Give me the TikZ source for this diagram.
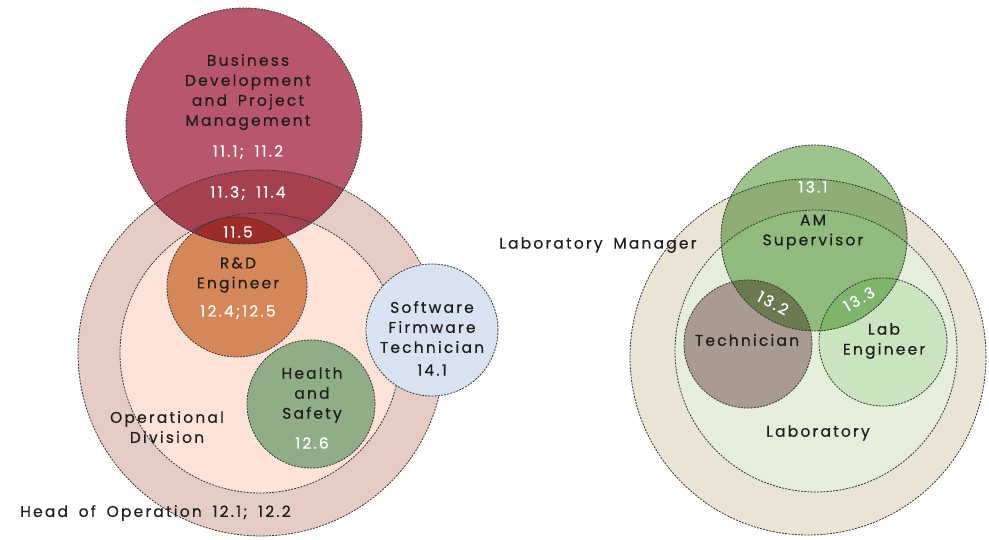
\documentclass[tikz,border=0pt]{standalone}
\usepackage{fontspec}
\setmainfont{Poppins}[LetterSpace=14, FakeBold=0.4, WordSpace=1.7]
\definecolor{hoC}{HTML}{E5CCC4}
\definecolor{odC}{HTML}{FDE2D8}
\definecolor{rdC}{HTML}{D4885A}
\definecolor{hsC}{HTML}{90AD88}
\definecolor{swC}{HTML}{D9E2F1}
\definecolor{bdC}{HTML}{B8566C}
\definecolor{bdhoC}{HTML}{A5414F}
\definecolor{bdrdC}{HTML}{9C2C2A}
\definecolor{lmC}{HTML}{E9E4D4}
\definecolor{labC}{HTML}{E4EEDA}
\definecolor{teC}{HTML}{A99B8F}
\definecolor{leC}{HTML}{C9E4BF}
\definecolor{amC}{HTML}{9DC48A}
\definecolor{amlmC}{HTML}{8FAE76}
\definecolor{amlabC}{HTML}{8FBB7C}
\definecolor{amteC}{HTML}{6C7B4F}
\definecolor{amleC}{HTML}{7DB56A}
\definecolor{inkC}{HTML}{1E1E1E}
\begin{document}
\begin{tikzpicture}[x=1pt,y=-1pt,
  bord/.style={draw=black!80, line width=0.8pt, dash pattern=on 2pt off 1.2pt},
  ring/.style={circle, inner sep=0pt, minimum size=#1, bord},
  lbl/.style={font=\fontsize{15.5}{20}\selectfont, text=inkC, align=center, inner sep=0pt},
  num/.style={lbl, text=white}]
\useasboundingbox (0,0) rectangle (989,540);
% ---------- left fills ----------
\fill[hoC] (261,353) circle[radius=183];
\fill[odC] (260,353) circle[radius=140];
\fill[rdC] (237,287) circle[radius=70];
\fill[hsC] (311,404) circle[radius=64];
\fill[bdC] (244,126) circle[radius=118];
\begin{scope}
  \clip (244,126) circle[radius=118];
  \fill[bdhoC] (261,353) circle[radius=183];
  \fill[bdrdC] (237,287) circle[radius=70];
\end{scope}
% ---------- right fills ----------
\fill[lmC] (808,357) circle[radius=178];
\fill[labC] (816,351) circle[radius=141];
\fill[teC] (748,344) circle[radius=64];
\fill[leC] (883,342) circle[radius=64];
\fill[amC] (814,238) circle[radius=93];
\begin{scope}
  \clip (814,238) circle[radius=93];
  \fill[amlmC] (808,357) circle[radius=178];
  \fill[amlabC] (816,351) circle[radius=141];
  \fill[amteC] (748,344) circle[radius=64];
  \fill[amleC] (883,342) circle[radius=64];
\end{scope}
% ---------- outlines ----------
\node[ring=366pt] (ho) at (261,353) {};
\node[ring=280pt] (od) at (260,353) {};
\node[ring=140pt] (rd) at (237,287) {};
\node[ring=128pt] (hs) at (311,404) {};
\node[ring=236pt] (bd) at (244,126) {};
\node[ring=132pt, fill=swC] (sw) at (432,330) {};
\node[ring=356pt] (lm) at (808,357) {};
\node[ring=282pt] (lab) at (816,351) {};
\node[ring=128pt] (te) at (748,344) {};
\node[ring=128pt] (le) at (883,342) {};
\node[ring=186pt] (am) at (814,238) {};
% ---------- left labels ----------
\node[lbl] (tbd) at (248,92) {Business\\Development\\and Project\\Management};
\node[num] (n111) at (248,152) {11.1; 11.2};
\node[num] (n113) at (248,193) {11.3; 11.4};
\node[num] (n115) at (238,232) {11.5};
\node[lbl] (trd) at (238,275) {R\&D\\Engineer};
\node[num] (n124) at (238,312) {12.4;12.5};
\node[lbl] (ths) at (312,395) {Health\\and\\Safety};
\node[num] (n126) at (312,443) {12.6};
\node[lbl] (tsw) at (432,327) {Software\\Firmware\\Technician};
\node[lbl] (n141) at (432,370) {14.1};
\node[lbl] (tod) at (167,427) {Operational\\Division};
\node[lbl, anchor=west] (tho) at (20,513) {Head of Operation 12.1; 12.2};
% ---------- right labels ----------
\node[lbl, anchor=west] (tlm) at (499,245) {Laboratory Manager};
\node[num] (n131) at (813,187) {13.1};
\node[lbl] (tam) at (813,232) {AM\\Supervisor};
\node[num, rotate=-28] (n132) at (773,303) {13.2};
\node[num, rotate=30] (n133) at (859,299) {13.3};
\node[lbl] (tte) at (747,340) {Technician};
\node[lbl] (tle) at (884,341) {Lab\\Engineer};
\node[lbl] (tlab) at (818,433) {Laboratory};
\end{tikzpicture}
\end{document}
